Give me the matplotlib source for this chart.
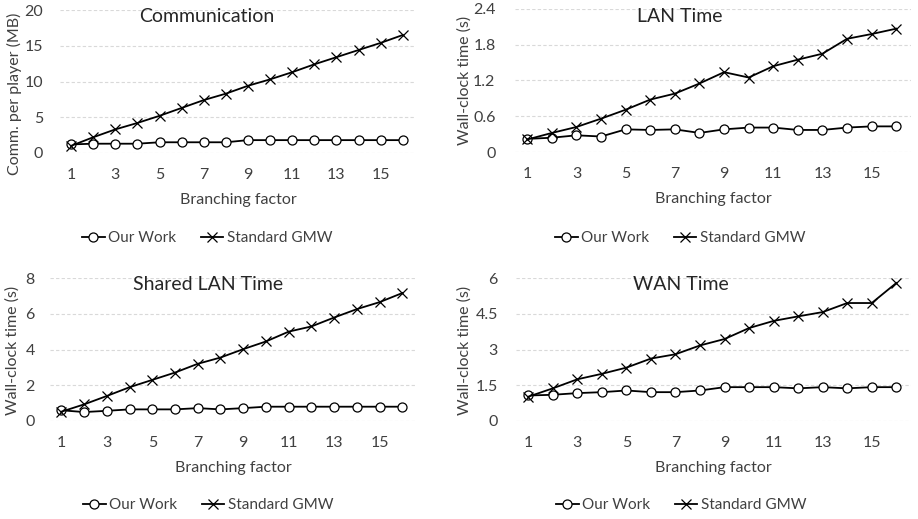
import matplotlib
matplotlib.use('Agg')
import matplotlib.pyplot as plt

plt.rcParams['font.family'] = ['Lato', 'DejaVu Sans']

branching = list(range(1, 17))
xticks = [1, 3, 5, 7, 9, 11, 13, 15]

comm_ours = [1.2, 1.3, 1.3, 1.3, 1.5, 1.5, 1.5, 1.5, 1.8, 1.8, 1.8, 1.8, 1.8, 1.8, 1.8, 1.8]
comm_gmw = [1.0, 2.2, 3.3, 4.2, 5.2, 6.3, 7.4, 8.3, 9.4, 10.3, 11.3, 12.4, 13.4, 14.4, 15.4, 16.5]

lan_ours = [0.22, 0.24, 0.28, 0.26, 0.38, 0.37, 0.38, 0.32, 0.38, 0.41, 0.41, 0.37, 0.37, 0.41, 0.43, 0.43]
lan_gmw = [0.21, 0.32, 0.42, 0.56, 0.71, 0.88, 0.98, 1.15, 1.34, 1.25, 1.44, 1.55, 1.65, 1.90, 1.98, 2.07]

shared_ours = [0.6, 0.5, 0.57, 0.65, 0.65, 0.65, 0.72, 0.65, 0.72, 0.8, 0.8, 0.8, 0.8, 0.8, 0.8, 0.8]
shared_gmw = [0.52, 0.93, 1.4, 1.89, 2.3, 2.71, 3.2, 3.55, 4.02, 4.45, 5.0, 5.29, 5.79, 6.26, 6.65, 7.16]

wan_ours = [1.07, 1.1, 1.17, 1.21, 1.28, 1.21, 1.21, 1.28, 1.42, 1.42, 1.42, 1.37, 1.42, 1.37, 1.42, 1.42]
wan_gmw = [1.02, 1.37, 1.75, 1.98, 2.24, 2.62, 2.8, 3.17, 3.44, 3.9, 4.2, 4.39, 4.57, 4.95, 4.95, 5.79]

W, H = 918, 519
fig = plt.figure(figsize=(W / 100, H / 100), dpi=100)

panels = [
    # title, ylabel, ours, gmw, yticks, box (x0, y0, x1, y1 px), title_x, ylabel x/y, legend_y, ytick pad
    ('Communication', 'Comm. per player (MB)', comm_ours, comm_gmw, [0, 5, 10, 15, 20],
     (60, 10, 416, 153), 207, (14, 94), 238, 12),
    ('LAN Time', 'Wall-clock time (s)', lan_ours, lan_gmw, [0, 0.6, 1.2, 1.8, 2.4],
     (515, 9, 911, 152), 680, (465, 80), 238, 14),
    ('Shared LAN Time', 'Wall-clock time (s)', shared_ours, shared_gmw, [0, 2, 4, 6, 8],
     (50, 278, 416, 421), 208, (13, 350), 505, 11),
    ('WAN Time', 'Wall-clock time (s)', wan_ours, wan_gmw, [0, 1.5, 3, 4.5, 6],
     (516, 278, 911, 421), 681, (465, 350), 505, 13),
]

txt = '#404040'
for title, ylabel, ours, gmw, yticks, box, tx, (ylx, yly), legy, ypad in panels:
    x0, y0, x1, y1 = box
    ax = fig.add_axes([x0 / W, 1 - y1 / H, (x1 - x0) / W, (y1 - y0) / H])
    l1, = ax.plot(branching, ours, color='black', lw=1.3, marker='o', ms=6.5,
                  mfc='white', mec='black', mew=0.9, label='Our Work')
    l2, = ax.plot(branching, gmw, color='black', lw=1.3, marker='x', ms=7.5,
                  mew=0.9, label='Standard GMW')
    ax.set_xlim(0.5, 16.6)
    ax.set_ylim(yticks[0], yticks[-1])
    ax.set_yticks(yticks)
    ax.set_yticklabels([f'{t:g}' for t in yticks])
    ax.set_xticks(xticks)
    for s in ax.spines.values():
        s.set_visible(False)
    ax.grid(axis='y', color='#d9d9d9', linestyle=(0, (3, 2)), lw=0.8)
    ax.set_axisbelow(True)
    ax.tick_params(length=0, labelsize=11.5, labelcolor=txt)
    ax.tick_params(axis='x', pad=11)
    ax.tick_params(axis='y', pad=ypad)
    ax.set_xlabel('Branching factor', fontsize=11.5, color=txt, labelpad=8)
    ax.set_ylabel(ylabel, fontsize=11.5, color=txt)
    ax.yaxis.set_label_coords((ylx - x0) / (x1 - x0), (y1 - yly) / (y1 - y0))
    ax.yaxis.label.set_va('center')
    fig.text(tx / W, 1 - (y0 + 7) / H, title, ha='center', va='center',
             fontsize=14, fontweight='normal', color='#262626')
    fig.legend(handles=[l1, l2], loc='center', ncol=2, frameon=False,
               bbox_to_anchor=(tx / W, 1 - legy / H), fontsize=11,
               handlelength=1.5, handletextpad=0.2, columnspacing=1.6,
               labelcolor=txt)

plt.savefig('out.png', dpi=100)
